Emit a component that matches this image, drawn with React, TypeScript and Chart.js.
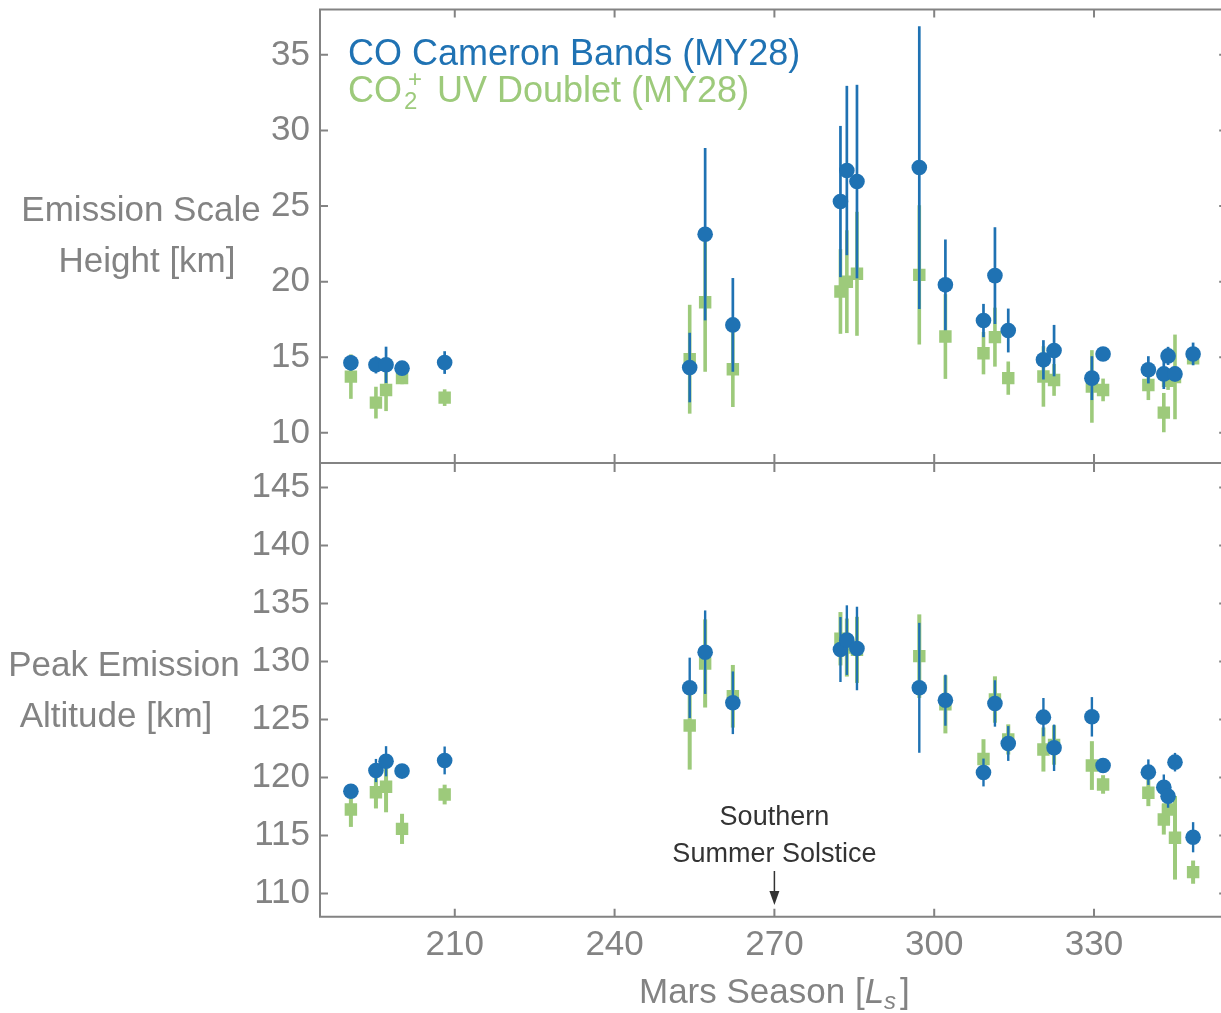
import React, { useEffect, useRef } from 'react';
import { Chart, registerables } from 'chart.js';

Chart.register(...registerables);

// Mars season (solar longitude, Ls) of each observation
const LS = [190.5, 195.2, 197.1, 200.1, 208.1, 254.1, 257.0, 262.2, 282.4, 283.6, 285.5, 297.2, 302.1, 309.25, 311.4, 313.9, 320.5, 322.5, 329.6, 331.7, 340.2, 343.1, 343.9, 345.2, 348.6];

// Emission scale height [km]
const CO_HEIGHT = [14.63, 14.5, 14.5, 14.28, 14.65, 14.32, 23.14, 17.14, 25.3, 27.35, 26.62, 27.55, 19.79, 17.43, 20.4, 16.77, 14.83, 15.44, 13.62, 15.22, 14.17, 13.9, 15.09, 13.9, 15.22];
const CO_HEIGHT_ERR = [0.5, 0.57, 1.2, 0.2, 0.75, 2.3, 5.7, 3.1, 5.0, 5.6, 6.4, 9.35, 3.0, 1.1, 3.2, 1.45, 1.3, 1.7, 1.45, 0.2, 0.9, 1.0, 0.6, 0.5, 0.75];
const CO2P_HEIGHT = [13.72, 12.0, 12.84, 13.62, 12.33, 14.87, 18.64, 14.21, 19.35, 20.0, 20.52, 20.45, 16.37, 15.27, 16.33, 13.62, 13.73, 13.5, 13.07, 12.84, 13.17, 11.34, 13.44, 13.7, 14.94];
const CO2P_HEIGHT_ERR = [1.47, 1.05, 1.4, 0.4, 0.55, 3.6, 4.6, 2.5, 2.8, 3.4, 4.1, 4.6, 2.8, 1.4, 1.95, 1.1, 2.0, 1.05, 2.4, 0.75, 1.0, 1.3, 0.6, 2.8, 0.3];

// Peak emission altitude [km]
const CO_ALT = [118.82, 120.6, 121.4, 120.55, 121.47, 127.73, 130.8, 126.44, 131.03, 131.84, 131.12, 127.73, 126.66, 120.43, 126.38, 122.93, 125.2, 122.56, 125.23, 121.03, 120.46, 119.16, 118.39, 121.32, 114.85];
const CO_ALT_ERR = [0.3, 1.0, 1.3, 0.3, 1.2, 2.6, 3.6, 2.7, 2.8, 3.0, 3.6, 5.6, 2.2, 1.2, 2.0, 1.5, 1.65, 2.0, 1.7, 0.3, 1.1, 1.1, 1.0, 0.8, 1.3];
const CO2P_ALT = [117.24, 118.73, 119.2, 115.57, 118.53, 124.48, 129.83, 127.0, 131.96, 131.2, 131.0, 130.46, 126.3, 121.6, 126.72, 123.28, 122.41, 122.8, 121.03, 119.4, 118.68, 116.38, 117.24, 114.8, 111.84];
const CO2P_ALT_ERR = [1.5, 1.4, 2.2, 1.3, 0.85, 3.8, 3.8, 2.7, 2.3, 2.5, 2.85, 3.6, 2.5, 1.7, 2.0, 1.3, 1.9, 1.7, 2.1, 0.8, 1.15, 1.3, 1.2, 3.6, 1.0];

const X_TICKS = [210, 240, 270, 300, 330];
const HEIGHT_TICKS = [10, 15, 20, 25, 30, 35];
const ALT_TICKS = [110, 115, 120, 125, 130, 135, 140, 145];
const SOLSTICE_LS = 270;

const BLUE = '#1f72b3';
const GREEN = '#9dca7b';
const GRAY = '#838383';
const DARK = '#333333';
const FONT = '"Liberation Sans", Arial, Helvetica, sans-serif';

function mkDataset(label: string, ys: number[], errs: number[], axis: string, color: string, style: string, radius: number, barW: number) {
  return {
    label,
    data: LS.map((x, i) => ({ x, y: ys[i] })),
    errs,
    errWidth: barW,
    yAxisID: axis,
    backgroundColor: color,
    borderColor: color,
    borderWidth: 0,
    pointStyle: style,
    pointRadius: radius,
    pointHoverRadius: radius,
    showLine: false,
  } as any;
}

const errorBarPlugin = {
  id: 'errorBars',
  beforeDatasetDraw(chart: any, args: any) {
    const ds = chart.data.datasets[args.index];
    const ys = chart.scales[ds.yAxisID];
    const xs = chart.scales.x;
    const ctx = chart.ctx;
    ctx.save();
    ctx.strokeStyle = ds.borderColor;
    ctx.lineWidth = ds.errWidth;
    ctx.lineCap = 'butt';
    ds.data.forEach((p: any, i: number) => {
      const px = xs.getPixelForValue(p.x);
      ctx.beginPath();
      ctx.moveTo(px, ys.getPixelForValue(p.y - ds.errs[i]));
      ctx.lineTo(px, ys.getPixelForValue(p.y + ds.errs[i]));
      ctx.stroke();
    });
    ctx.restore();
  },
};

const framePlugin = {
  id: 'frameAndText',
  afterDraw(chart: any) {
    const ctx = chart.ctx;
    const { left, right, top, bottom } = chart.chartArea;
    const xs = chart.scales.x;
    const yT = chart.scales.yTop;
    const yB = chart.scales.yBot;
    const mid = yT.bottom;
    ctx.save();
    ctx.strokeStyle = GRAY;
    ctx.lineWidth = 2;
    ctx.beginPath();
    ctx.rect(left, top, right - left, bottom - top);
    ctx.moveTo(left, mid);
    ctx.lineTo(right, mid);
    ctx.stroke();
    // tick marks
    const tl = 8;
    ctx.beginPath();
    X_TICKS.forEach((v) => {
      const px = xs.getPixelForValue(v);
      ctx.moveTo(px, top); ctx.lineTo(px, top + tl);
      ctx.moveTo(px, bottom); ctx.lineTo(px, bottom - tl);
      ctx.moveTo(px, mid - 9); ctx.lineTo(px, mid + 9);
    });
    HEIGHT_TICKS.forEach((v) => {
      const py = yT.getPixelForValue(v);
      ctx.moveTo(left, py); ctx.lineTo(left + tl, py);
      ctx.moveTo(right, py); ctx.lineTo(right - tl, py);
    });
    ALT_TICKS.forEach((v) => {
      const py = yB.getPixelForValue(v);
      ctx.moveTo(left, py); ctx.lineTo(left + tl, py);
      ctx.moveTo(right, py); ctx.lineTo(right - tl, py);
    });
    ctx.stroke();

    // legend
    ctx.textBaseline = 'middle';
    ctx.textAlign = 'left';
    ctx.font = `36px ${FONT}`;
    ctx.fillStyle = BLUE;
    ctx.fillText('CO Cameron Bands (MY28)', 348, 55);
    ctx.fillStyle = GREEN;
    let x = 348;
    const ly = 92;
    ctx.fillText('CO', x, ly); x += ctx.measureText('CO').width;
    ctx.font = `24px ${FONT}`;
    ctx.fillText('2', x + 2, ly + 10);
    ctx.fillText('+', x + 6, ly - 12);
    x += 25;
    ctx.font = `36px ${FONT}`;
    ctx.fillText(' UV Doublet (MY28)', x, ly);

    // y titles
    ctx.fillStyle = GRAY;
    ctx.textAlign = 'center';
    ctx.font = `35px ${FONT}`;
    ctx.fillText('Emission Scale', 141, 211);
    ctx.fillText('Height [km]', 147, 262);
    ctx.fillText('Peak Emission', 124, 666);
    ctx.fillText('Altitude [km]', 116, 717);

    // x title
    ctx.textAlign = 'left';
    const t1 = 'Mars Season [';
    ctx.font = `35px ${FONT}`;
    const w1 = ctx.measureText(t1).width;
    ctx.font = `italic 35px ${FONT}`;
    const wL = ctx.measureText('L').width;
    ctx.font = `italic 24px ${FONT}`;
    const wS = ctx.measureText('s').width;
    ctx.font = `35px ${FONT}`;
    const wB = ctx.measureText(']').width;
    const total = w1 + wL + wS + wB + 4;
    let tx = xs.getPixelForValue(SOLSTICE_LS) - total / 2;
    const ty = 993;
    ctx.fillText(t1, tx, ty); tx += w1;
    ctx.font = `italic 35px ${FONT}`;
    ctx.fillText('L', tx, ty); tx += wL;
    ctx.font = `italic 24px ${FONT}`;
    ctx.fillText('s', tx, ty + 9); tx += wS + 4;
    ctx.font = `35px ${FONT}`;
    ctx.fillText(']', tx, ty);

    // solstice annotation
    const ax = xs.getPixelForValue(SOLSTICE_LS);
    ctx.fillStyle = DARK;
    ctx.strokeStyle = DARK;
    ctx.textAlign = 'center';
    ctx.font = `27px ${FONT}`;
    ctx.fillText('Southern', ax, 818);
    ctx.fillText('Summer Solstice', ax, 855);
    ctx.lineWidth = 1.5;
    ctx.beginPath();
    ctx.moveTo(ax, 871);
    ctx.lineTo(ax, 895);
    ctx.stroke();
    ctx.beginPath();
    ctx.moveTo(ax - 5, 891);
    ctx.lineTo(ax + 5, 891);
    ctx.lineTo(ax, 905);
    ctx.closePath();
    ctx.fill();
    ctx.restore();
  },
};

export default function App() {
  const ref = useRef<HTMLCanvasElement | null>(null);
  useEffect(() => {
    document.body.style.margin = '0';
    const canvas = ref.current!;
    const tickFont = { family: FONT, size: 35 };
    const chart = new Chart(canvas, {
      type: 'scatter',
      data: {
        datasets: [
          mkDataset('CO Cameron Bands (MY28)', CO_HEIGHT, CO_HEIGHT_ERR, 'yTop', BLUE, 'circle', 7.8, 2.7),
          mkDataset('CO Cameron Bands (MY28) alt', CO_ALT, CO_ALT_ERR, 'yBot', BLUE, 'circle', 7.8, 2.4),
          mkDataset('CO2+ UV Doublet (MY28)', CO2P_HEIGHT, CO2P_HEIGHT_ERR, 'yTop', GREEN, 'rect', 8.8, 3.6),
          mkDataset('CO2+ UV Doublet (MY28) alt', CO2P_ALT, CO2P_ALT_ERR, 'yBot', GREEN, 'rect', 8.8, 4),
        ],
      },
      options: {
        responsive: false,
        animation: false,
        events: [],
        layout: { padding: { top: 9.5, right: 3, left: 0, bottom: 0 } },
        plugins: { legend: { display: false }, tooltip: { enabled: false } },
        scales: {
          x: {
            type: 'linear',
            position: 'bottom',
            min: 184.7,
            max: 355,
            grid: { display: false, drawTicks: false },
            border: { display: false },
            ticks: { font: tickFont, color: GRAY, padding: 8, maxRotation: 0, autoSkip: false },
            afterBuildTicks: (s: any) => { s.ticks = X_TICKS.map((v) => ({ value: v })); },
            afterFit: (s: any) => { s.height = 96.3; s.paddingLeft = 0; s.paddingRight = 0; },
          },
          yBot: {
            type: 'linear',
            position: 'left',
            stack: 'panels',
            stackWeight: 1,
            min: 108,
            max: 147.1,
            grid: { display: false, drawTicks: false },
            border: { display: false },
            ticks: { font: tickFont, color: GRAY, padding: 10, autoSkip: false },
            afterBuildTicks: (s: any) => { s.ticks = ALT_TICKS.map((v) => ({ value: v })); },
            afterFit: (s: any) => { s.width = 320; s.paddingTop = 0; s.paddingBottom = 0; },
          },
          yTop: {
            type: 'linear',
            position: 'left',
            stack: 'panels',
            stackWeight: 1,
            min: 8,
            max: 38,
            grid: { display: false, drawTicks: false },
            border: { display: false },
            ticks: { font: tickFont, color: GRAY, padding: 10, autoSkip: false },
            afterBuildTicks: (s: any) => { s.ticks = HEIGHT_TICKS.map((v) => ({ value: v })); },
            afterFit: (s: any) => { s.width = 320; s.paddingTop = 0; s.paddingBottom = 0; },
          },
        },
      } as any,
      plugins: [errorBarPlugin, framePlugin],
    });
    return () => chart.destroy();
  }, []);
  return (
    <div style={{ width: 1221, height: 1013, overflow: 'hidden', position: 'relative' }}>
      <div style={{ width: 1236, height: 1013 }}>
        <canvas ref={ref} width={1236} height={1013} style={{ display: 'block', width: 1236, height: 1013 }} />
      </div>
    </div>
  );
}
